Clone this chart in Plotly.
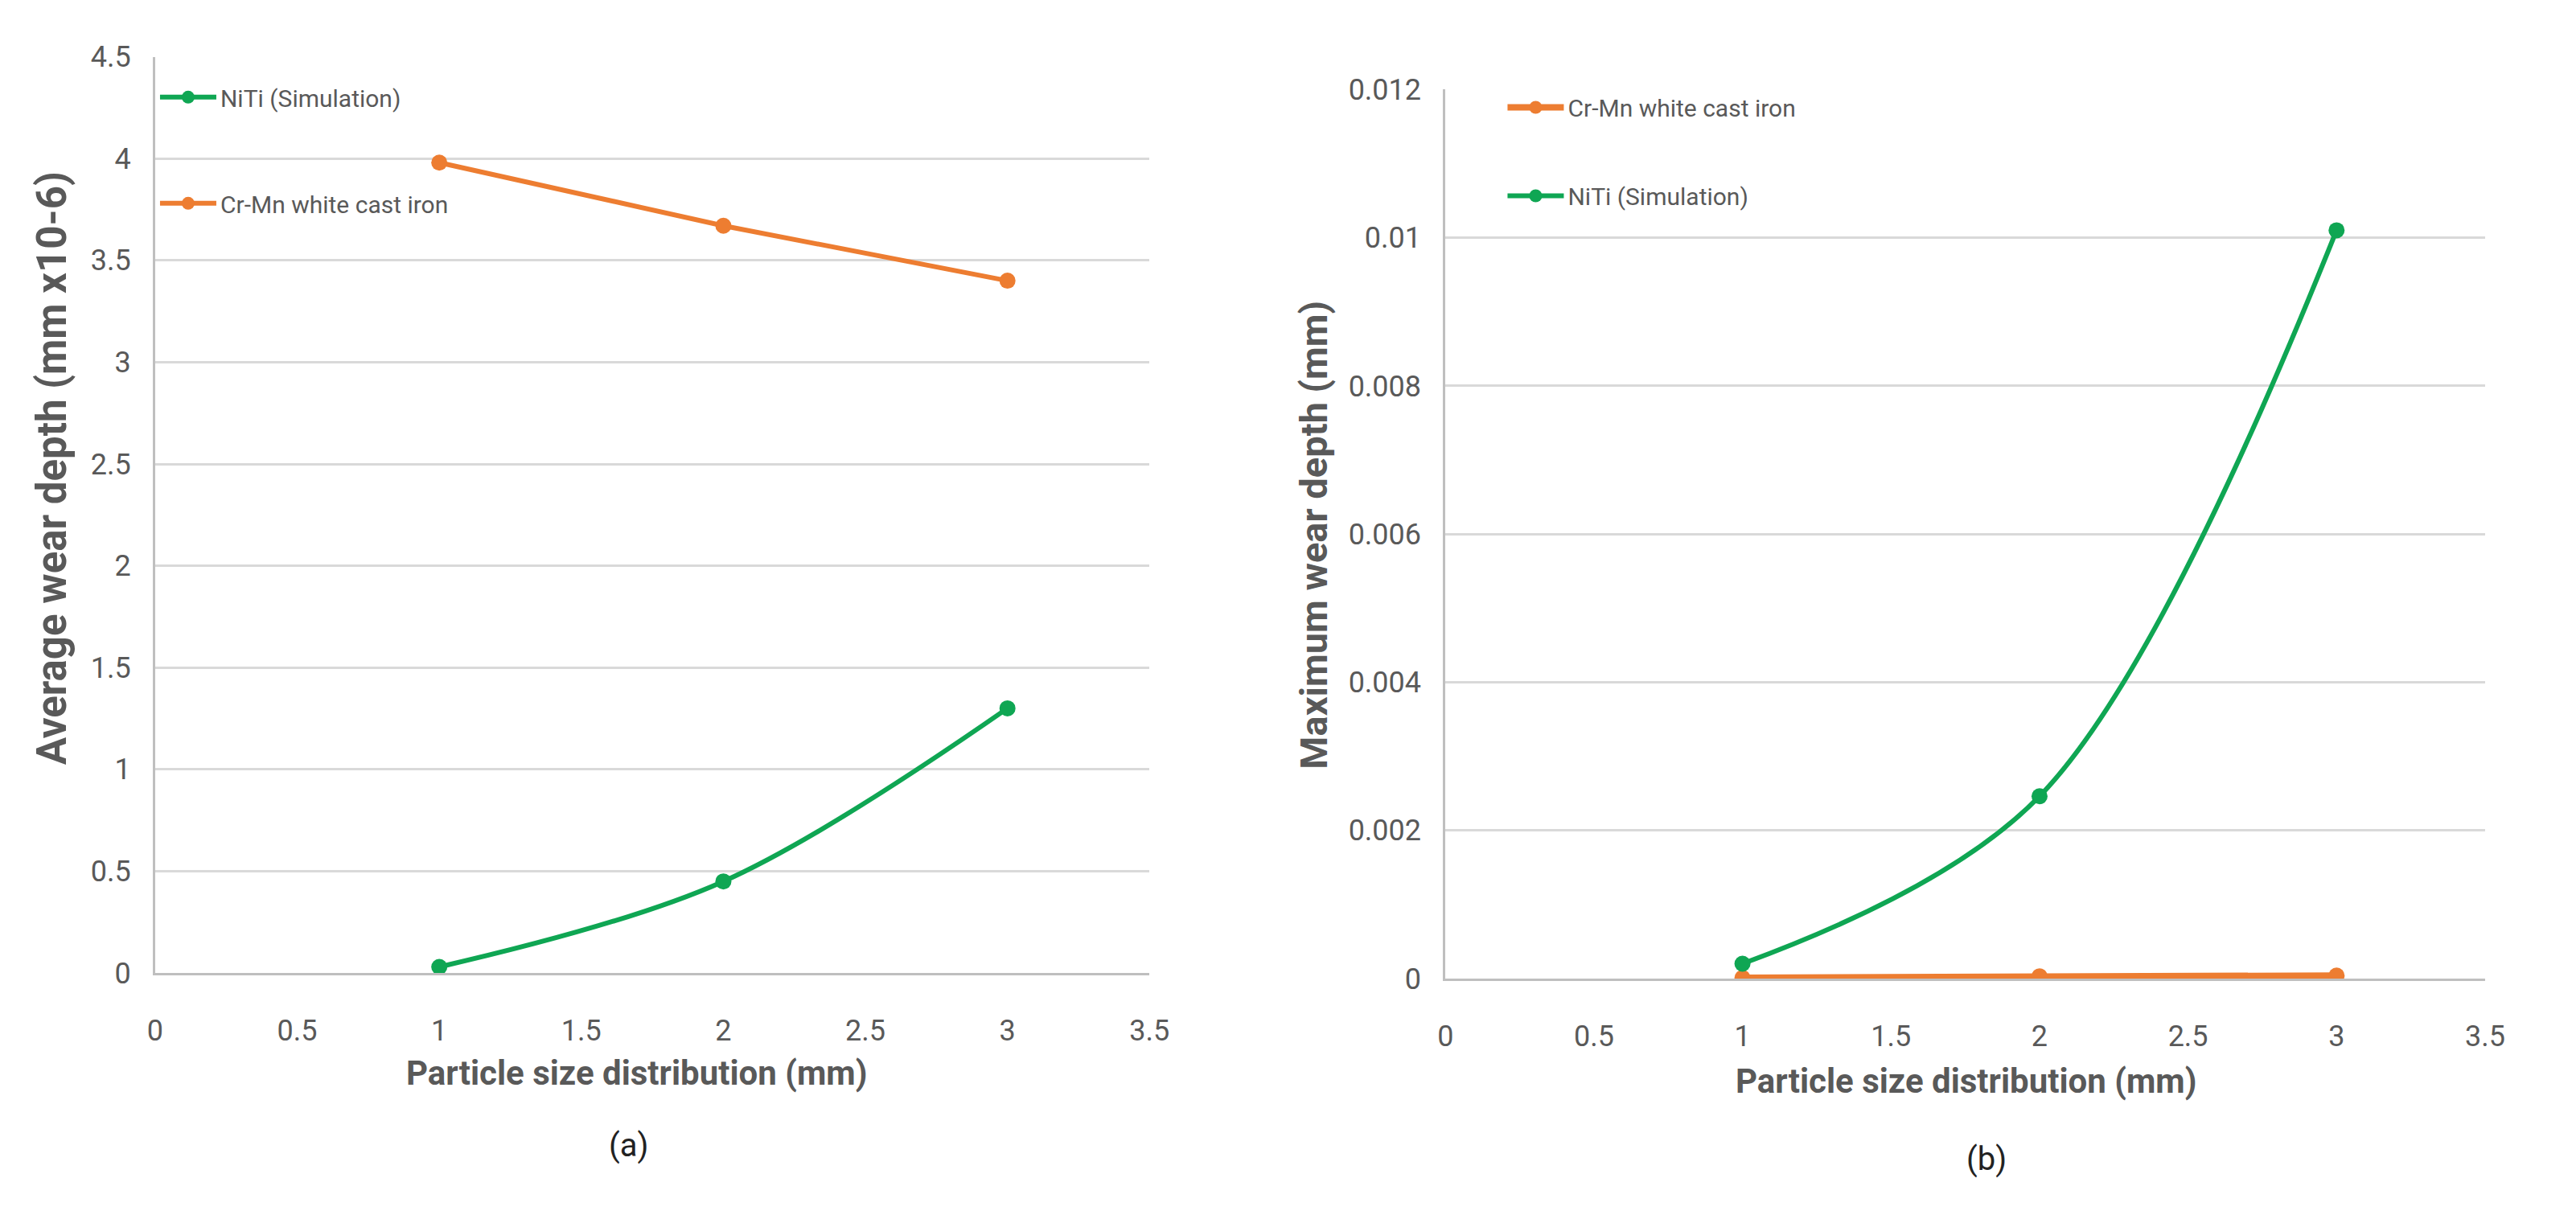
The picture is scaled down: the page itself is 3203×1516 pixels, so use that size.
import plotly.graph_objects as go

# ---------------- data ----------------
particle_size = [1, 2, 3]                      # mm
avg_niti = [0.03, 0.45, 1.30]                  # mm x10-6
avg_crmn = [3.98, 3.67, 3.40]                  # mm x10-6
max_crmn = [0.00001, 0.00003, 0.00004]         # mm
max_niti = [0.0002, 0.00246, 0.0101]           # mm

x_ticks = [0, 0.5, 1, 1.5, 2, 2.5, 3, 3.5]
name_niti = "NiTi (Simulation)"
name_crmn = "Cr-Mn white cast iron"
x_title = "Particle size distribution (mm)"
y_title_a = "Average wear depth (mm x10-6)"
y_title_b = "Maximum wear depth (mm)"

# ---------------- style ----------------
W, H = 3203, 1516
GREEN = "#0FA653"
ORANGE = "#ED7D31"
GRID = "#D9D9D9"
AXIS = "#BFBFBF"
TXT = "#595959"
FONT = "Liberation Sans Narrow, Arial Narrow, Roboto, sans-serif"


def px_x(p):
    return p / W


def px_y(p):
    return 1 - p / H


fig = go.Figure()

LW = 6
MS = 20

fig.add_trace(go.Scatter(x=particle_size, y=avg_niti, name=name_niti, mode="lines+markers",
                         line=dict(color=GREEN, width=LW, shape="spline", smoothing=1),
                         marker=dict(color=GREEN, size=MS), xaxis="x", yaxis="y",
                         legend="legend", legendgroup="a1"))
fig.add_trace(go.Scatter(x=particle_size, y=avg_crmn, name=name_crmn, mode="lines+markers",
                         line=dict(color=ORANGE, width=LW),
                         marker=dict(color=ORANGE, size=MS), xaxis="x", yaxis="y",
                         legend="legend", legendgroup="a2"))
fig.add_trace(go.Scatter(x=particle_size, y=max_crmn, name=name_crmn, mode="lines+markers",
                         line=dict(color=ORANGE, width=LW + 2),
                         marker=dict(color=ORANGE, size=MS), xaxis="x2", yaxis="y2",
                         legend="legend2", legendgroup="b1"))
fig.add_trace(go.Scatter(x=particle_size, y=max_niti, name=name_niti, mode="lines+markers",
                         line=dict(color=GREEN, width=LW, shape="spline", smoothing=1),
                         marker=dict(color=GREEN, size=MS), xaxis="x2", yaxis="y2",
                         legend="legend2", legendgroup="b2"))

tickfont = dict(family=FONT, size=36, color=TXT)
common_x = dict(range=[0, 3.5], tickvals=x_ticks, showgrid=False, zeroline=False,
                showline=True, linecolor=AXIS, linewidth=3, ticks="",
                tickfont=tickfont, ticklabelstandoff=38, fixedrange=True)
common_y = dict(showgrid=True, gridcolor=GRID, gridwidth=3, zeroline=False,
                showline=True, linecolor=AXIS, linewidth=3, ticks="",
                tickfont=tickfont, ticklabelstandoff=20, fixedrange=True)

fig.update_layout(
    width=W, height=H,
    margin=dict(l=0, r=0, t=0, b=0),
    paper_bgcolor="white", plot_bgcolor="white",
    font=dict(family=FONT, color=TXT),
    xaxis=dict(domain=[px_x(185), px_x(1435)], anchor="y", **common_x),
    yaxis=dict(domain=[px_y(1224), px_y(52)], anchor="x", range=[0, 4.5], dtick=0.5, **common_y),
    xaxis2=dict(domain=[px_x(1807), px_x(3114)], anchor="y2", **common_x),
    yaxis2=dict(domain=[px_y(1231), px_y(94)], anchor="x2", range=[0, 0.012], dtick=0.002, **common_y),
    legend=dict(x=px_x(186), y=px_y(77), xanchor="left", yanchor="top",
                font=dict(family=FONT, size=30, color=TXT), itemwidth=70,
                traceorder="grouped", tracegroupgap=90, bgcolor="rgba(0,0,0,0)"),
    legend2=dict(x=px_x(1880), y=px_y(90), xanchor="left", yanchor="top",
                 font=dict(family=FONT, size=30, color=TXT), itemwidth=70,
                 traceorder="grouped", tracegroupgap=68, bgcolor="rgba(0,0,0,0)"),
    showlegend=True,
)

title_font = dict(family=FONT, size=42, color=TXT, weight="bold")
ytitle_font_a = dict(family=FONT, size=51, color=TXT, weight="bold")
ytitle_font_b = dict(family=FONT, size=47, color=TXT, weight="bold")
cap_font = dict(family=FONT, size=40, color="#222222")
annots = [
    dict(text=x_title, x=px_x(790), y=px_y(1352), font=title_font),
    dict(text=x_title, x=px_x(2461), y=px_y(1362), font=title_font),
    dict(text=y_title_a, x=px_x(56), y=px_y(578), font=ytitle_font_a, textangle=-90),
    dict(text=y_title_b, x=px_x(1642), y=px_y(664), font=ytitle_font_b, textangle=-90),
    dict(text="(a)", x=px_x(780), y=px_y(1445), font=cap_font),
    dict(text="(b)", x=px_x(2487), y=px_y(1462), font=cap_font),
]
for a in annots:
    fig.add_annotation(xref="paper", yref="paper", xanchor="center", yanchor="middle",
                       showarrow=False, **a)

fig.write_html("out.html", config={"displayModeBar": False},
               post_script="document.body.style.margin='0';")
